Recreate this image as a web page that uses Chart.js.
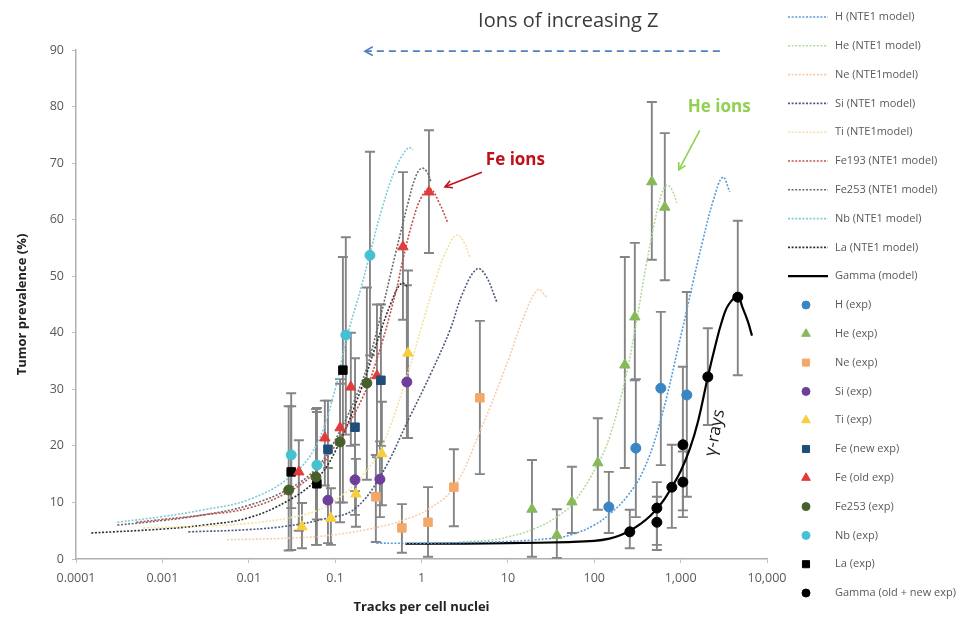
<!DOCTYPE html>
<html>
<head>
<meta charset="utf-8">
<script src="https://cdn.jsdelivr.net/npm/chart.js@4.4.0/dist/chart.umd.min.js"></script>
<style>html,body{margin:0;background:#fff}#wrap{width:971px;height:621px}</style>
</head>
<body>
<div id="wrap"><canvas id="chart" width="971" height="621"></canvas></div>
<script>
// axis ticks
const xTickValues = [0.0001, 0.001, 0.01, 0.1, 1, 10, 100, 1000, 10000];
const xTickLabels = ['0.0001', '0.001', '0.01', '0.1', '1', '10', '100', '1,000', '10,000'];
const yTickValues = [0, 10, 20, 30, 40, 50, 60, 70, 80, 90];

// NTE1 model curves: [tracks per nucleus, prevalence %]
const hModel = [[0.3, 2.8], [1, 2.8], [3, 2.9], [10, 3.1], [30, 3.6], [52, 4.2], [100, 6.0], [152, 8.0], [238, 11], [366, 15.5], [574, 24], [980, 38.7], [1384, 48.8], [1810, 56.4], [2400, 63.5], [3080, 67.5], [3710, 64.9]];
const heModel = [[3, 3.0], [6.7, 3.4], [10, 3.9], [20, 5.3], [40, 7.8], [60, 10.3], [110, 16.8], [150, 21.5], [226, 31.5], [300, 41], [400, 52], [500, 59.5], [600, 64.5], [692, 66.1], [800, 65.2], [903, 63]];
const neModel = [[0.0056, 3.4], [0.03, 3.7], [0.1, 4.3], [0.33, 5.7], [0.6, 6.8], [1.2, 8.8], [2.37, 12.7], [4.74, 22.5], [10, 35], [15, 42.5], [22.2, 47.6], [28.2, 46.3]];
const siModel = [[0.002, 4.8], [0.01, 5.2], [0.03, 5.9], [0.08, 7.2], [0.163, 8.7], [0.33, 14.5], [0.73, 25.1], [1.3, 33], [2.14, 40.5], [3, 47], [4.38, 51.3], [5.5, 50.2], [7.47, 45.4]];
const tiModel = [[0.0006, 5.5], [0.003, 5.8], [0.01, 6.3], [0.03, 7.3], [0.06, 8.5], [0.1, 10.3], [0.2, 14.5], [0.35, 20], [0.7, 33], [1, 41], [1.5, 50], [2, 55], [2.57, 57.3], [3.1, 56], [3.63, 53.4]];
const fe193Model = [[0.0005, 6.5], [0.001, 7.0], [0.003, 7.8], [0.01, 9.0], [0.03, 12], [0.06, 15.5], [0.1, 20], [0.2, 28], [0.3, 35], [0.5, 47], [0.61, 53], [0.8, 60], [1, 64], [1.25, 65.5], [1.6, 63], [2.02, 59.4]];
const fe253Model = [[0.0003, 6.0], [0.001, 6.8], [0.003, 7.8], [0.01, 9.5], [0.03, 12.5], [0.06, 16], [0.1, 21], [0.2, 31], [0.3, 40], [0.5, 54], [0.7, 63], [0.85, 67.5], [1, 69.1], [1.15, 68.5], [1.3, 66.5]];
const nbModel = [[0.0003, 6.5], [0.001, 7.5], [0.003, 8.7], [0.01, 10.5], [0.03, 14.5], [0.06, 20], [0.1, 30], [0.133, 38.5], [0.2, 48], [0.253, 54], [0.35, 62], [0.5, 69], [0.7, 72.7], [0.8, 72.4]];
const laModel = [[0.00015, 4.6], [0.001, 5.3], [0.003, 6.0], [0.01, 7.3], [0.03, 10.5], [0.06, 14], [0.1, 19], [0.2, 30], [0.3, 38], [0.45, 45.5], [0.59, 48.8], [0.7, 48]];
const gammaModel = [[0.65, 2.7], [1, 2.7], [10, 2.8], [50, 3.0], [100, 3.2], [150, 3.6], [200, 4.2], [258, 5.0], [350, 6.3], [450, 7.7], [531, 8.9], [650, 10.6], [791, 12.7], [1000, 15.5], [1280, 19.5], [1600, 24.5], [2065, 32.2], [2500, 37.5], [3000, 42], [3600, 45], [4590, 46.3], [5200, 44.5], [6000, 42], [6700, 39.5]];

// experiments: [tracks, prevalence, error low, error high]
const hExp = [[147.5, 9.2, 4.6, 15.4], [303, 19.6, 7.4, 31.8], [590, 30.2, 16.6, 43.7], [1180, 29.0, 11.0, 47.2]];
const heExp = [[19, 8.8, 0.4, 17.5], [36.9, 4.2, 0.2, 8.8], [55.1, 10.1, 4.6, 16.3], [110, 17.0, 8.7, 24.9], [226, 34.3, 16.1, 53.4], [295, 42.8, 31.6, 55.9], [464, 66.7, 52.9, 80.8], [656, 62.2, 49.3, 75.3]];
const neExp = [[0.296, 11.0, 3.0, 18.4], [0.593, 5.5, 1.1, 9.7], [1.19, 6.5, 0.4, 12.7], [2.37, 12.7, 5.8, 19.4], [4.74, 28.5, 15.0, 42.1]];
const siExp = [[0.0826, 10.4, 2.8, 16.1], [0.17, 14.0, 7.8, 20.2], [0.33, 14.1, 7.4, 20.8], [0.677, 31.3, 21.4, 48.4]];
const tiExp = [[0.0413, 5.7, 1.9, 9.9], [0.0893, 7.2, 2.5, 12.5], [0.174, 11.5, 5.7, 17.7], [0.348, 18.6, 9.5, 27.8], [0.697, 36.4, 21.4, 51]];
const feNewExp = [[0.0826, 19.4, 10, 28], [0.17, 23.3, 12, 35.5], [0.339, 31.6, 20, 45]];
const feOldExp = [[0.038, 15.4, 5, 21], [0.076, 21.4, 13, 28], [0.114, 23.2, 10, 31], [0.152, 30.4, 20, 40], [0.305, 32.4, 18, 45], [0.61, 55.2, 42.3, 68.4], [1.22, 64.9, 54.1, 75.8]];
const fe253Exp = [[0.029, 12.2, 1.5, 27], [0.06, 14.5, 2.5, 26.5], [0.114, 20.7, 6.5, 31.8], [0.233, 31.1, 14, 48]];
const nbExp = [[0.031, 18.4, 9, 27], [0.0615, 16.6, 7, 26], [0.133, 39.6, 22, 56.9], [0.253, 53.7, 36, 72]];
const laExp = [[0.031, 15.4, 1.6, 29.3], [0.0615, 13.3, 2.5, 26.7], [0.123, 33.4, 10, 53.4]];
const gammaExp = [[258, 4.8, 1.9, 8.7], [531, 9.0, 1.6, 13.6], [531, 6.5, 2.5, 11], [791, 12.7, 5.5, 20.2], [1062, 20.2, 7.4, 34], [1062, 13.6, 8.6, 19], [2065, 32.2, 23.7, 40.8], [4590, 46.3, 32.5, 59.8]];

const FONT = '"Open Sans", "DejaVu Sans", sans-serif';
const model = (label, pts, color, dash = [2, 1.6], width = 1.6) => ({
  label, data: pts.map(([x, y]) => ({ x, y })), showLine: true, borderColor: color, borderWidth: width,
  borderDash: dash, pointRadius: 0, pointHoverRadius: 0, tension: 0.4, fill: false, order: 2, kind: 'line',
});
const exp = (label, pts, color, pointStyle, radius = 5) => ({
  label, data: pts.map(([x, y]) => ({ x, y })), err: pts.map((p) => [p[2], p[3]]), showLine: false,
  pointStyle, pointRadius: radius, backgroundColor: color, borderColor: color, borderWidth: 1, order: 0, kind: 'point',
});

const datasets = [
  model('H (NTE1 model)', hModel, '#5b9bd5'),
  model('He (NTE1 model)', heModel, '#b5d99c'),
  model('Ne (NTE1model)', neModel, '#f8cbad'),
  model('Si (NTE1 model)', siModel, '#4a5a78'),
  model('Ti (NTE1model)', tiModel, '#f3e3a0'),
  model('Fe193 (NTE1 model)', fe193Model, '#c0504d'),
  model('Fe253 (NTE1 model)', fe253Model, '#6b6b6b'),
  model('Nb (NTE1 model)', nbModel, '#7fcbd8'),
  model('La (NTE1 model)', laModel, '#303030'),
  model('Gamma (model)', gammaModel, '#000000', [], 2.2),
  exp('H (exp)', hExp, '#3a86c4', 'circle'),
  exp('He (exp)', heExp, '#86b95a', 'triangle', 6),
  exp('Ne (exp)', neExp, '#f4a868', 'rect', 6),
  exp('Si (exp)', siExp, '#6e3f9a', 'circle'),
  exp('Ti (exp)', tiExp, '#f7cf3c', 'triangle', 6),
  exp('Fe (new exp)', feNewExp, '#1f4e79', 'rect', 6),
  exp('Fe (old exp)', feOldExp, '#e23b3b', 'triangle', 6),
  exp('Fe253 (exp)', fe253Exp, '#46602c', 'circle'),
  exp('Nb (exp)', nbExp, '#45c1d1', 'circle'),
  exp('La (exp)', laExp, '#000000', 'rect', 6),
  exp('Gamma (old + new exp)', gammaExp, '#000000', 'circle'),
];

const errorBars = {
  id: 'errorBars',
  beforeDatasetsDraw(chart) {
    const { ctx, scales: { x, y } } = chart;
    ctx.save();
    ctx.strokeStyle = '#858585';
    ctx.lineWidth = 1.9;
    chart.data.datasets.forEach((ds) => {
      if (!ds.err) return;
      ds.err.forEach(([lo, hi], i) => {
        const px = x.getPixelForValue(ds.data[i].x), top = y.getPixelForValue(hi), bot = y.getPixelForValue(lo);
        ctx.beginPath();
        ctx.moveTo(px, top); ctx.lineTo(px, bot);
        ctx.moveTo(px - 5, top); ctx.lineTo(px + 5, top);
        ctx.moveTo(px - 5, bot); ctx.lineTo(px + 5, bot);
        ctx.stroke();
      });
    });
    ctx.restore();
  },
};

const sideLegend = {
  id: 'sideLegend',
  afterDraw(chart) {
    const ctx = chart.ctx, x0 = 788, x1 = 828, tx = 835, y0 = 17, step = 28.8;
    ctx.save();
    ctx.font = `11px ${FONT}`;
    ctx.textBaseline = 'middle';
    chart.data.datasets.forEach((ds, i) => {
      const y = y0 + i * step;
      if (ds.kind === 'line') {
        ctx.strokeStyle = ds.borderColor;
        ctx.lineWidth = ds.borderWidth;
        ctx.setLineDash(ds.borderDash);
        ctx.beginPath(); ctx.moveTo(x0, y); ctx.lineTo(x1, y); ctx.stroke();
        ctx.setLineDash([]);
      } else {
        ctx.fillStyle = ds.backgroundColor;
        ctx.strokeStyle = ds.borderColor;
        ctx.lineWidth = 1;
        Chart.helpers.drawPoint(ctx, { pointStyle: ds.pointStyle, radius: ds.pointRadius - 1, rotation: 0, borderWidth: 1 }, (x0 + x1) / 2 - 2, y);
      }
      ctx.fillStyle = '#595959';
      ctx.fillText(ds.label, tx, y);
    });
    ctx.restore();
  },
};

const arrow = (ctx, ax, ay, bx, by, color, dash, head) => {
  ctx.save();
  ctx.strokeStyle = color; ctx.lineWidth = 1.6; ctx.setLineDash(dash);
  ctx.beginPath(); ctx.moveTo(ax, ay); ctx.lineTo(bx, by); ctx.stroke();
  ctx.setLineDash([]);
  const a = Math.atan2(by - ay, bx - ax);
  ctx.beginPath();
  ctx.moveTo(bx - head * Math.cos(a - 0.5), by - head * Math.sin(a - 0.5));
  ctx.lineTo(bx, by);
  ctx.lineTo(bx - head * Math.cos(a + 0.5), by - head * Math.sin(a + 0.5));
  ctx.stroke();
  ctx.restore();
};

const notes = {
  id: 'notes',
  afterDraw(chart) {
    const { ctx, scales: { x, y } } = chart;
    const P = (vx, vy) => [x.getPixelForValue(vx), y.getPixelForValue(vy)];
    ctx.save();
    ctx.textBaseline = 'middle';
    ctx.textAlign = 'center';
    ctx.font = `20px ${FONT}`;
    ctx.fillStyle = '#3a3a3a';
    ctx.fillText('Ions of increasing Z', ...P(50, 95));
    arrow(ctx, ...P(2845, 89.8), ...P(0.221, 89.8), '#4f81bd', [7, 5], 9);
    ctx.textAlign = 'left';
    ctx.font = `bold 17px ${FONT}`;
    ctx.fillStyle = '#c0101a';
    ctx.fillText('Fe ions', ...P(5.56, 70.5));
    arrow(ctx, ...P(5.0, 68.4), ...P(1.87, 65.8), '#c0101a', [], 8);
    ctx.fillStyle = '#92d050';
    ctx.fillText('He ions', ...P(1211, 79.9));
    arrow(ctx, ...P(1667, 75.8), ...P(953, 68.8), '#92d050', [], 8);
    const [gx, gy] = P(2500, 22.3);
    ctx.translate(gx, gy);
    ctx.rotate(-79 * Math.PI / 180);
    ctx.textAlign = 'center';
    ctx.font = `17px ${FONT}`;
    ctx.fillStyle = '#1a1a1a';
    ctx.fillText('γ-rays', 0, 0);
    ctx.restore();
  },
};

new Chart(document.getElementById('chart'), {
  type: 'scatter',
  data: { datasets },
  options: {
    responsive: false,
    animation: false,
    devicePixelRatio: 1,
    layout: { padding: { left: 12, right: 204, top: 50, bottom: 0 } },
    plugins: { legend: { display: false }, tooltip: { enabled: false } },
    scales: {
      x: {
        type: 'logarithmic', min: 0.0001, max: 10000,
        afterBuildTicks: (s) => { s.ticks = xTickValues.map((value) => ({ value })); },
        afterFit: (s) => { s.height = 62; },
        ticks: { callback: (v, i) => xTickLabels[i], autoSkip: false, maxRotation: 0, padding: 8, color: '#595959', font: { family: FONT, size: 12.5 } },
        grid: { drawOnChartArea: false, drawTicks: true, tickLength: 4, color: '#c0c0c0' },
        border: { color: '#b0b0b0', width: 1.5 },
        title: { display: true, text: 'Tracks per cell nuclei', color: '#222', font: { family: FONT, size: 13, weight: 'bold' }, padding: { top: 4, bottom: 6 } },
      },
      y: {
        min: 0, max: 90,
        afterBuildTicks: (s) => { s.ticks = yTickValues.map((value) => ({ value })); },
        afterFit: (s) => { s.width = 64; },
        ticks: { padding: 8, color: '#595959', font: { family: FONT, size: 12.5 } },
        grid: { drawOnChartArea: false, drawTicks: true, tickLength: 4, color: '#c0c0c0' },
        border: { color: '#b0b0b0', width: 1.5 },
        title: { display: true, text: 'Tumor prevalence (%)', color: '#222', font: { family: FONT, size: 13, weight: 'bold' }, padding: 2 },
      },
    },
  },
  plugins: [errorBars, sideLegend, notes],
});
</script>
</body>
</html>
